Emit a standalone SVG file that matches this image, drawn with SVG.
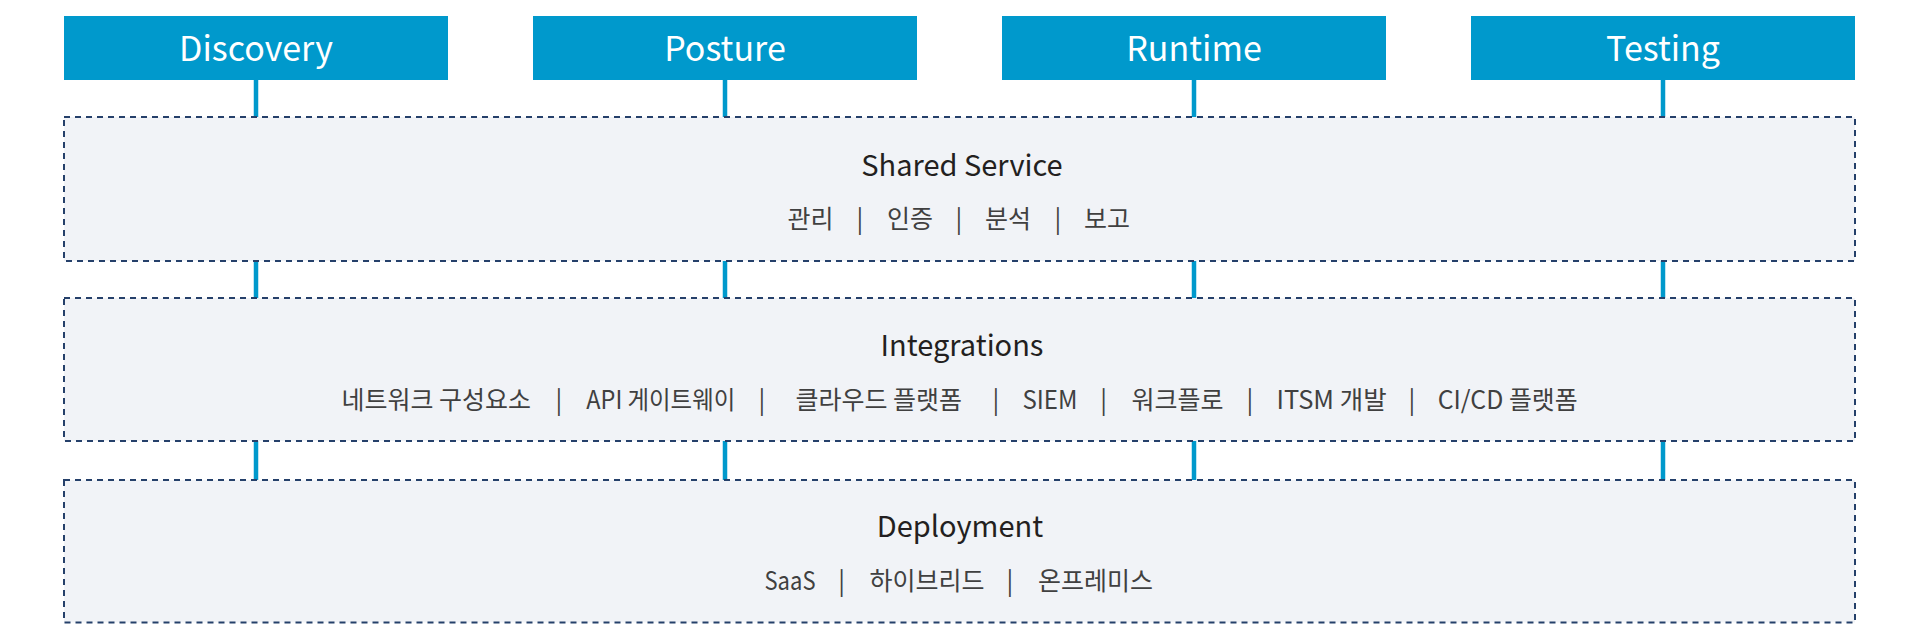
<svg xmlns="http://www.w3.org/2000/svg" width="1919" height="640" viewBox="0 0 1919 640">
<style>
.hdr{fill:#0099cc;}
.hdrt{fill:#ffffff;font-family:"Noto Sans CJK KR","Noto Sans",sans-serif;font-size:34px;text-anchor:middle;}
.layer{fill:#f1f3f7;stroke:#25406a;stroke-width:2;stroke-dasharray:6 5;}
.lt{fill:#231f20;font-family:"Noto Sans CJK KR","Noto Sans",sans-serif;font-size:29px;text-anchor:middle;}
.it{fill:#404040;font-family:"Noto Sans CJK KR","Noto Sans",sans-serif;font-size:25px;text-anchor:middle;}
.conn{stroke:#0099cc;stroke-width:4.5;fill:none;}
</style>
<rect width="1919" height="640" fill="#ffffff"/>
<g id="connectors">
<path class="conn" d="M256 80V117M725 80V117M1194 80V117M1663 80V117"/>
<path class="conn" d="M256 261V298M725 261V298M1194 261V298M1663 261V298"/>
<path class="conn" d="M256 441V480M725 441V480M1194 441V480M1663 441V480"/>
</g>
<g id="discovery"><rect class="hdr" x="64" y="16" width="384" height="64"/><text class="hdrt" x="256" y="61">Discovery</text></g>
<g id="posture"><rect class="hdr" x="533" y="16" width="384" height="64"/><text class="hdrt" x="725" y="61">Posture</text></g>
<g id="runtime"><rect class="hdr" x="1002" y="16" width="384" height="64"/><text class="hdrt" x="1194" y="61">Runtime</text></g>
<g id="testing"><rect class="hdr" x="1471" y="16" width="384" height="64"/><text class="hdrt" x="1663" y="61">Testing</text></g>
<g id="shared-service">
<rect class="layer" x="64" y="117" width="1791" height="144"/>
<text class="lt" x="962" y="175.5">Shared Service</text>
<text class="it" x="810.5" y="228">관리</text><text class="it" x="860" y="228">|</text>
<text class="it" x="910" y="228">인증</text><text class="it" x="959" y="228">|</text>
<text class="it" x="1008" y="228">분석</text><text class="it" x="1058" y="228">|</text>
<text class="it" x="1107" y="228">보고</text>
</g>
<g id="integrations">
<rect class="layer" x="64" y="298" width="1791" height="143"/>
<text class="lt" x="962" y="356">Integrations</text>
<text class="it" x="436.3" y="409">네트워크 구성요소</text><text class="it" x="558.8" y="409">|</text>
<text class="it" x="660.8" y="409" textLength="149" lengthAdjust="spacingAndGlyphs">API 게이트웨이</text><text class="it" x="762" y="409">|</text>
<text class="it" x="878.7" y="409">클라우드 플랫폼</text><text class="it" x="996" y="409">|</text>
<text class="it" x="1050" y="409" textLength="55" lengthAdjust="spacingAndGlyphs">SIEM</text><text class="it" x="1103.7" y="409">|</text>
<text class="it" x="1177.4" y="409">워크플로</text><text class="it" x="1249.8" y="409">|</text>
<text class="it" x="1331.6" y="409" textLength="110" lengthAdjust="spacingAndGlyphs">ITSM 개발</text><text class="it" x="1411.8" y="409">|</text>
<text class="it" x="1507.7" y="409" textLength="140" lengthAdjust="spacingAndGlyphs">CI/CD 플랫폼</text>
</g>
<g id="deployment">
<rect class="layer" x="64" y="480" width="1791" height="142.5"/>
<text class="lt" x="960" y="537">Deployment</text>
<text class="it" x="790" y="590" textLength="51" lengthAdjust="spacingAndGlyphs">SaaS</text><text class="it" x="841.7" y="590">|</text>
<text class="it" x="927" y="590">하이브리드</text><text class="it" x="1010" y="590">|</text>
<text class="it" x="1095.5" y="590">온프레미스</text>
</g>
</svg>
